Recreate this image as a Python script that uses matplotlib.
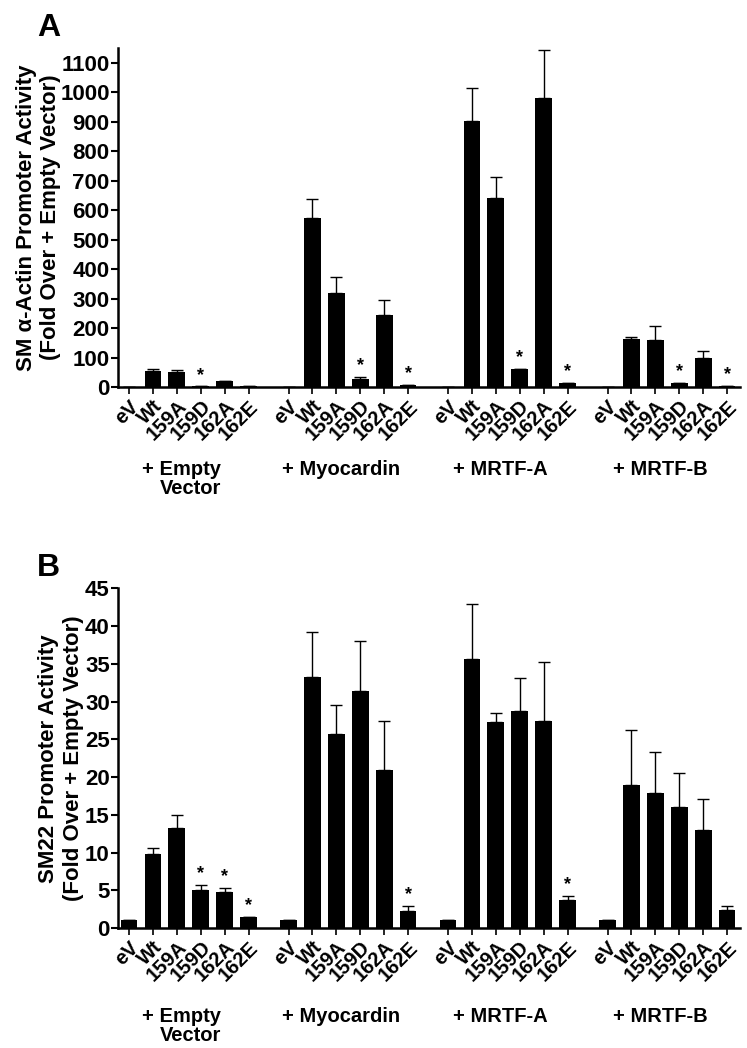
import numpy as np
import matplotlib
matplotlib.use('Agg')
import matplotlib.pyplot as plt

plt.rcParams['font.family'] = ['Liberation Sans', 'DejaVu Sans']
plt.rcParams['font.weight'] = 'bold'

# Data
#------------------------------------------------------------------------------
groups = ['+ Empty\nVector', '+ Myocardin', '+ MRTF-A', '+ MRTF-B']
constructs = ['eV', 'Wt', '159A', '159D', '162A', '162E']

# panel A: SM alpha-actin
a_mean = [[1, 55, 50, 2, 20, 2],
          [1, 575, 318, 28, 246, 7],
          [1, 903, 642, 61, 979, 12],
          [1, 163, 158, 13, 100, 4]]
a_top = [[1, 60, 57, 2, 21, 2],
         [1, 639, 374, 33, 294, 8],
         [1, 1014, 713, 62, 1143, 14],
         [1, 170, 207, 15, 122, 5]]
a_star = [[0, 0, 0, 1, 0, 0],
          [0, 0, 0, 1, 0, 1],
          [0, 0, 0, 1, 0, 1],
          [0, 0, 0, 1, 0, 1]]

# panel B: SM22
b_mean = [[1, 9.8, 13.2, 5.0, 4.8, 1.4],
          [1, 33.3, 25.7, 31.4, 21.0, 2.25],
          [1, 35.7, 27.3, 28.7, 27.4, 3.65],
          [1, 18.9, 17.9, 16.0, 13.0, 2.4]]
b_top = [[1, 10.6, 15.0, 5.65, 5.3, 1.5],
         [1, 39.2, 29.5, 38.0, 27.5, 2.9],
         [1, 42.9, 28.5, 33.1, 35.3, 4.25],
         [1, 26.2, 23.3, 20.5, 17.1, 2.95]]
b_star = [[0, 0, 0, 1, 1, 1],
          [0, 0, 0, 0, 0, 1],
          [0, 0, 0, 0, 0, 1],
          [0, 0, 0, 0, 0, 0]]
#------------------------------------------------------------------------------

gap = 6.67
pos = np.array([[g * gap + i for i in range(6)] for g in range(4)])


def panel(ax, mean, top, star, ymax, ystep, ylabel, letter, gy, lpad):
    mean = np.array(mean, dtype=float)
    top = np.array(top, dtype=float)
    x = pos.ravel()
    m = mean.ravel()
    t = top.ravel()
    ax.bar(x, m, width=0.7, color='black', zorder=2)
    ax.errorbar(x, m, yerr=[np.zeros_like(m), t - m], fmt='none',
                ecolor='black', elinewidth=1.0, capsize=4, capthick=1.0, zorder=1)
    for xi, ti, si in zip(x, t, np.array(star).ravel()):
        if si:
            ax.annotate('*', (xi, ti), xytext=(0, 2), textcoords='offset points',
                        ha='center', va='bottom', fontsize=13, fontweight='bold')
    ax.set_xlim(-0.46, 25.55)
    ax.set_ylim(0, ymax)
    ax.set_yticks(np.arange(0, ymax + 1, ystep))
    ax.set_xticks(x)
    ax.set_xticklabels(constructs * 4, rotation=45, ha='right',
                       rotation_mode='anchor', fontsize=14.5, fontweight='bold')
    for lab in ax.get_yticklabels():
        lab.set_fontsize(16)
        lab.set_fontweight('bold')
    ax.spines['top'].set_visible(False)
    ax.spines['right'].set_visible(False)
    ax.spines['left'].set_linewidth(1.8)
    ax.spines['bottom'].set_linewidth(1.8)
    ax.tick_params(axis='y', length=5, width=1.5, pad=1)
    ax.tick_params(axis='x', length=5, width=1.2, pad=2)
    ax.set_ylabel(ylabel, fontsize=16, fontweight='bold', labelpad=lpad)
    for g, name in enumerate(groups):
        ax.text(pos[g].mean() - 0.3, gy, name, transform=ax.get_xaxis_transform(),
                ha='center', va='top', fontsize=14.5, fontweight='bold',
                multialignment='right', linespacing=1.0)
    ax.text(-0.13, 1.06, letter, transform=ax.transAxes, fontsize=23,
            fontweight='bold', ha='left', va='center')


fig = plt.figure(figsize=(7.47, 10.48), dpi=100)
axA = fig.add_axes([0.158, 0.6307, 0.8326, 0.3235])
axB = fig.add_axes([0.158, 0.1145, 0.8326, 0.3240])

panel(axA, a_mean, a_top, a_star, 1150, 100,
      'SM \u03b1-Actin Promoter Activity\n(Fold Over + Empty Vector)', 'A', -0.215, -0.5)
panel(axB, b_mean, b_top, b_star, 45, 5,
      'SM22 Promoter Activity\n(Fold Over + Empty Vector)', 'B', -0.232, 1)

fig.savefig('out.png', dpi=100)
